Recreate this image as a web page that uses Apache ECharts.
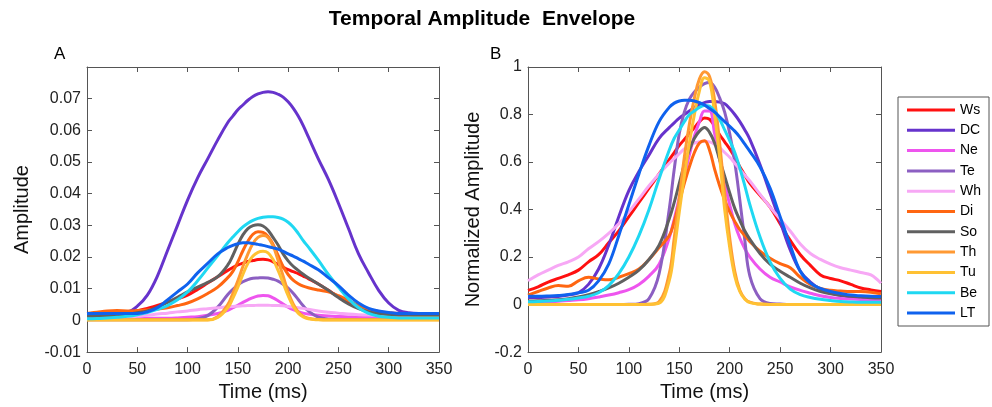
<!DOCTYPE html>
<html>
<head>
<meta charset="utf-8">
<script src="https://cdn.jsdelivr.net/npm/echarts@6/dist/echarts.min.js"></script>
<style>html,body{margin:0;padding:0;background:#fff;}#c{width:992px;height:407px;}</style>
</head>
<body>
<div id="c"></div>
<script>
// time axis (ms)
const times = [0,10,20,30,40,50,60,70,80,90,100,110,120,130,
  140,145,150,155,160,165,170,175,180,185,190,195,200,205,210,215,220,
  230,240,250,260,270,280,290,300,310,320,330,340,350];
const seriesNames = ['Ws','DC','Ne','Te','Wh','Di','So','Th','Tu','Be','LT'];
const xTicks = [0,50,100,150,200,250,300,350];

// Panel A: amplitude
const ampWs = [0.0015,0.0016,0.0018,0.002,0.0025,0.003,0.0038,0.0047,0.0058,0.0068,0.008,0.0098,0.0118,0.0138,
  0.0158,0.0167,0.0175,0.0181,0.0186,0.0189,0.0192,0.0193,0.0191,0.0185,0.0177,0.0168,0.016,0.0154,0.0148,0.014,0.0132,
  0.0115,0.0095,0.0075,0.0058,0.0045,0.0035,0.0028,0.0024,0.0022,0.0022,0.0021,0.0021,0.0021];
const ampDC = [0.0022,0.0022,0.0022,0.0023,0.0026,0.0045,0.008,0.014,0.022,0.030,0.038,0.045,0.051,0.057,
  0.0625,0.0645,0.0665,0.068,0.0695,0.0707,0.0715,0.072,0.0722,0.072,0.0714,0.0705,0.069,0.067,0.0645,0.0615,0.058,
  0.051,0.0445,0.037,0.029,0.021,0.015,0.0095,0.0055,0.0032,0.0024,0.0022,0.0022,0.0022];
const ampNe = [0.0007,0.0007,0.0007,0.0007,0.0007,0.0007,0.0007,0.0007,0.0007,0.0008,0.001,0.0012,0.0016,0.0022,
  0.0032,0.004,0.0048,0.0057,0.0065,0.0072,0.0077,0.0079,0.0078,0.0071,0.0062,0.0052,0.0042,0.0034,0.0028,0.0023,0.002,
  0.0016,0.0014,0.0012,0.0011,0.001,0.001,0.001,0.001,0.001,0.001,0.001,0.001,0.001];
const ampTe = [0.0002,0.0002,0.0002,0.0002,0.0002,0.0002,0.0002,0.0002,0.0002,0.0002,0.0002,0.0005,0.0015,0.0042,
  0.0082,0.0098,0.0112,0.0122,0.0129,0.0133,0.0134,0.0135,0.0134,0.013,0.0124,0.0114,0.0102,0.0086,0.0066,0.0046,0.003,
  0.001,0.0004,0.0003,0.0003,0.0003,0.0003,0.0003,0.0003,0.0003,0.0003,0.0003,0.0003,0.0003];
const ampWh = [0.0005,0.0005,0.0006,0.0008,0.001,0.0013,0.0016,0.002,0.0023,0.0027,0.003,0.0034,0.0037,0.004,
  0.0043,0.0044,0.0045,0.0046,0.0047,0.0047,0.0048,0.0048,0.0048,0.0047,0.0047,0.0046,0.0044,0.0042,0.004,0.0038,0.0035,
  0.003,0.0026,0.0023,0.002,0.0018,0.0017,0.0016,0.0016,0.0016,0.0016,0.0016,0.0016,0.0016];
const ampDi = [0.0022,0.0026,0.003,0.0031,0.003,0.0031,0.0033,0.0036,0.004,0.0047,0.0055,0.0068,0.0085,0.0105,
  0.0135,0.0155,0.0185,0.022,0.025,0.0272,0.028,0.0278,0.0265,0.024,0.0205,0.017,0.0145,0.0127,0.0116,0.0108,0.0103,
  0.0096,0.009,0.0078,0.0063,0.0048,0.0035,0.0025,0.0019,0.0016,0.0016,0.0015,0.0015,0.0015];
const ampSo = [0.0013,0.0013,0.0014,0.0016,0.0019,0.0024,0.003,0.0042,0.0057,0.0073,0.009,0.0105,0.012,0.0138,
  0.0175,0.0205,0.024,0.027,0.029,0.0299,0.0302,0.0298,0.0285,0.0262,0.0238,0.021,0.0188,0.0171,0.0158,0.0146,0.0135,
  0.0115,0.0095,0.0072,0.0052,0.0037,0.0027,0.0022,0.0019,0.0018,0.0018,0.0018,0.0018,0.0018];
const ampTh = [0.0002,0.0002,0.0002,0.0002,0.0002,0.0002,0.0002,0.0002,0.0002,0.0002,0.0002,0.0002,0.0002,0.0012,
  0.005,0.0085,0.0125,0.017,0.021,0.0243,0.0262,0.0268,0.0262,0.0235,0.019,0.014,0.009,0.0052,0.0027,0.0013,0.0007,
  0.0003,0.0002,0.0002,0.0002,0.0002,0.0002,0.0002,0.0002,0.0002,0.0002,0.0002,0.0002,0.0002];
const ampTu = [0.0001,0.0001,0.0001,0.0001,0.0001,0.0001,0.0001,0.0001,0.0001,0.0001,0.0001,0.0001,0.0001,0.0009,
  0.004,0.007,0.0105,0.0145,0.018,0.0203,0.0215,0.0218,0.0213,0.0192,0.0158,0.0118,0.0078,0.0045,0.0023,0.0011,0.0005,
  0.0002,0.0001,0.0001,0.0001,0.0001,0.0001,0.0001,0.0001,0.0001,0.0001,0.0001,0.0001,0.0001];
const ampBe = [0.0005,0.0006,0.0008,0.001,0.0013,0.0018,0.0025,0.0035,0.0047,0.0065,0.009,0.0125,0.0165,0.0205,
  0.0245,0.0263,0.028,0.0295,0.0307,0.0316,0.0322,0.0326,0.0327,0.0327,0.0325,0.032,0.031,0.0295,0.0275,0.0252,0.0232,
  0.019,0.0145,0.0105,0.0068,0.004,0.0022,0.0013,0.001,0.0008,0.0008,0.0008,0.0008,0.0008];
const ampLT = [0.0022,0.0022,0.0022,0.0022,0.0022,0.0022,0.0027,0.004,0.0065,0.009,0.0115,0.015,0.018,0.021,
  0.023,0.0237,0.0242,0.0245,0.0245,0.0243,0.024,0.0237,0.0233,0.0229,0.0225,0.0218,0.021,0.0203,0.0195,0.0187,0.0178,
  0.016,0.0135,0.011,0.008,0.0055,0.0038,0.003,0.0025,0.0022,0.0022,0.0022,0.0022,0.0022];

// Panel B: normalized amplitude
const normWs = [0.06,0.075,0.095,0.11,0.125,0.145,0.18,0.21,0.26,0.31,0.37,0.43,0.49,0.55,
  0.61,0.64,0.67,0.695,0.72,0.745,0.77,0.785,0.78,0.75,0.715,0.685,0.655,0.62,0.58,0.545,0.51,
  0.46,0.41,0.34,0.27,0.21,0.165,0.125,0.11,0.1,0.085,0.07,0.062,0.055];
const normDC = [0.03,0.03,0.032,0.034,0.04,0.05,0.085,0.15,0.25,0.37,0.48,0.56,0.63,0.70,
  0.745,0.765,0.785,0.80,0.815,0.83,0.842,0.85,0.855,0.855,0.852,0.845,0.825,0.80,0.77,0.735,0.695,
  0.59,0.47,0.35,0.23,0.14,0.095,0.065,0.048,0.038,0.033,0.03,0.03,0.03];
const normNe = [0.01,0.01,0.012,0.014,0.017,0.02,0.025,0.032,0.04,0.05,0.063,0.085,0.12,0.17,
  0.28,0.36,0.45,0.54,0.63,0.71,0.77,0.815,0.815,0.72,0.61,0.51,0.42,0.34,0.28,0.235,0.2,
  0.15,0.115,0.095,0.075,0.06,0.048,0.037,0.03,0.026,0.023,0.021,0.02,0.02];
const normTe = [0,0,0,0,0,0,0,0,0,0,0.001,0.004,0.025,0.13,
  0.40,0.57,0.72,0.81,0.865,0.895,0.915,0.93,0.935,0.915,0.87,0.81,0.72,0.6,0.44,0.27,0.12,
  0.025,0.005,0.002,0,0,0,0,0,0,0,0,0,0];
const normWh = [0.1,0.125,0.145,0.165,0.18,0.2,0.235,0.265,0.3,0.34,0.39,0.445,0.5,0.55,
  0.595,0.615,0.635,0.655,0.67,0.68,0.685,0.688,0.685,0.675,0.66,0.64,0.62,0.595,0.57,0.545,0.52,
  0.465,0.41,0.36,0.31,0.255,0.215,0.19,0.17,0.155,0.145,0.135,0.125,0.09];
const normDi = [0.04,0.055,0.07,0.08,0.077,0.1,0.115,0.108,0.104,0.115,0.13,0.15,0.19,0.24,
  0.29,0.35,0.43,0.51,0.58,0.64,0.68,0.69,0.65,0.57,0.5,0.44,0.39,0.35,0.315,0.29,0.265,
  0.225,0.195,0.172,0.155,0.115,0.085,0.068,0.06,0.057,0.055,0.055,0.052,0.045];
const normSo = [0.015,0.016,0.018,0.02,0.025,0.032,0.042,0.055,0.07,0.09,0.115,0.145,0.19,0.25,
  0.36,0.43,0.51,0.59,0.65,0.70,0.73,0.745,0.725,0.68,0.61,0.54,0.47,0.405,0.355,0.31,0.275,
  0.215,0.17,0.14,0.115,0.09,0.07,0.055,0.045,0.04,0.035,0.032,0.029,0.028];
const normTh = [0,0,0,0,0,0,0,0,0,0,0,0,0.001,0.012,
  0.13,0.28,0.45,0.62,0.76,0.87,0.95,0.98,0.96,0.86,0.68,0.47,0.28,0.14,0.06,0.025,0.01,
  0.002,0,0,0,0,0,0,0,0,0,0,0,0];
const normTu = [0,0,0,0,0,0,0,0,0,0,0,0,0.001,0.006,
  0.1,0.23,0.39,0.54,0.68,0.8,0.9,0.955,0.94,0.8,0.62,0.4,0.24,0.12,0.055,0.022,0.008,
  0.002,0,0,0,0,0,0,0,0,0,0,0,0];
const normBe = [0.012,0.013,0.015,0.018,0.022,0.028,0.035,0.05,0.08,0.13,0.2,0.29,0.4,0.53,
  0.65,0.70,0.735,0.77,0.80,0.815,0.83,0.838,0.835,0.815,0.78,0.735,0.69,0.64,0.575,0.5,0.42,
  0.285,0.18,0.11,0.065,0.042,0.03,0.022,0.017,0.013,0.011,0.01,0.01,0.01];
const normLT = [0.035,0.035,0.036,0.038,0.042,0.05,0.06,0.1,0.17,0.29,0.42,0.55,0.67,0.77,
  0.83,0.848,0.857,0.86,0.86,0.857,0.85,0.84,0.825,0.81,0.79,0.77,0.75,0.73,0.705,0.675,0.645,
  0.58,0.49,0.37,0.25,0.14,0.09,0.068,0.055,0.047,0.04,0.037,0.035,0.034];

const ampData = [ampWs,ampDC,ampNe,ampTe,ampWh,ampDi,ampSo,ampTh,ampTu,ampBe,ampLT];
const normData = [normWs,normDC,normNe,normTe,normWh,normDi,normSo,normTh,normTu,normBe,normLT];
const colors = ['#ff1010','#6633cc','#ee55ee','#8c5fc2','#f7a8f5','#ff6611','#606060','#ff9933','#ffc133','#1fd8f2','#0f62ee'];

const FONT = 'Liberation Sans';
const AX = '#555';
function xAx(grid, top){
  return {
    type:'value', gridIndex:grid, min:0, max:350, interval:50, position: top?'top':'bottom',
    axisLine:{show:true, onZero:false, lineStyle:{color:AX, width:1}},
    axisTick:{show:true, inside:true, length:5, lineStyle:{color:AX}},
    axisLabel:{show:!top, margin:9, fontSize:16, fontFamily:FONT, color:'#222'},
    splitLine:{show:false},
    name: top ? '' : 'Time (ms)', nameLocation:'middle', nameGap:25,
    nameTextStyle:{fontSize:20, fontFamily:FONT, color:'#111'}
  };
}
function yAx(grid, right, min, max, interval, fmt, name, gap){
  return {
    type:'value', gridIndex:grid, min:min, max:max, interval:interval, position: right?'right':'left',
    axisLine:{show:true, onZero:false, lineStyle:{color:AX, width:1}},
    axisTick:{show:true, inside:true, length:5, lineStyle:{color:AX}},
    axisLabel:{show:!right, margin:6, fontSize:16, fontFamily:FONT, color:'#222', formatter:fmt},
    splitLine:{show:false},
    name: right ? '' : name, nameLocation:'middle', nameGap:gap, nameRotate:90,
    nameTextStyle:{fontSize:20, fontFamily:FONT, color:'#111'}
  };
}
const fmtA = v => Math.abs(v-0.08)<1e-9 ? '' : String(+v.toFixed(2));
const fmtB = v => String(+v.toFixed(1));

const series = [];
seriesNames.forEach((n,i)=>{
  series.push({name:n, type:'line', xAxisIndex:0, yAxisIndex:0, symbol:'none', smooth:0.4,
    lineStyle:{width:3, color:colors[i]}, itemStyle:{color:colors[i]},
    data: times.map((t,k)=>[t, ampData[i][k]]), silent:true});
});
seriesNames.forEach((n,i)=>{
  series.push({name:n, type:'line', xAxisIndex:2, yAxisIndex:2, symbol:'none', smooth:0.4,
    lineStyle:{width:3, color:colors[i]}, itemStyle:{color:colors[i]},
    data: times.map((t,k)=>[t, normData[i][k]]), silent:true});
});

const chart = echarts.init(document.getElementById('c'), null, {renderer:'canvas'});
chart.setOption({
  animation:false,
  backgroundColor:'#fff',
  grid:[
    {left:87, top:67, width:352, height:290},
    {left:528, top:67, width:353, height:290}
  ],
  xAxis:[xAx(0,false), xAx(0,true), xAx(1,false), xAx(1,true)],
  yAxis:[
    yAx(0,false,-0.01,0.08,0.01,fmtA,'Amplitude',55),
    yAx(0,true,-0.01,0.08,0.01,fmtA,'',0),
    yAx(1,false,-0.2,1,0.2,fmtB,'Normalized Amplitude',45),
    yAx(1,true,-0.2,1,0.2,fmtB,'',0)
  ],
  legend:{
    data: seriesNames, orient:'vertical', left:898, top:97,
    padding:[6,8,6,9], borderColor:'#555', borderWidth:1,
    icon:'rect', itemWidth:48, itemHeight:3, itemGap:6.3,
    textStyle:{fontSize:14, fontFamily:FONT, color:'#000'}
  },
  graphic:[
    {type:'text', x:482, y:9, style:{text:'Temporal Amplitude  Envelope', fontSize:21, fontWeight:'bold', fontFamily:FONT, fill:'#000', textAlign:'center'}},
    {type:'text', left:54, top:46, style:{text:'A', fontSize:17, fontFamily:FONT, fill:'#000'}},
    {type:'text', left:490, top:46, style:{text:'B', fontSize:17, fontFamily:FONT, fill:'#000'}}
  ],
  series: series
});
</script>
</body>
</html>
